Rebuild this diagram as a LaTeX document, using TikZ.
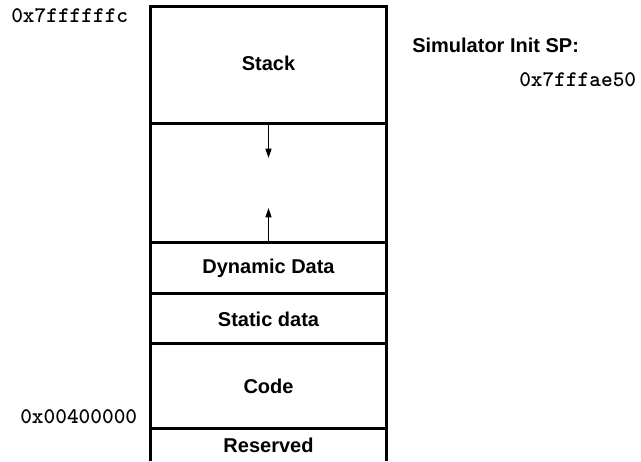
\documentclass[tikz,border=0pt]{standalone}
\usepackage{fontspec}
\setmainfont{Liberation Sans}
\usetikzlibrary{arrows.meta}

\tikzset{
  region/.style={inner sep=0pt, minimum width=177pt,
    font=\fontsize{15}{18}\selectfont\bfseries},
  addr/.style={inner sep=0pt, anchor=west,
    font=\ttfamily\fontsize{16.7}{19}\selectfont\bfseries},
  caption/.style={inner sep=0pt, anchor=west,
    font=\fontsize{15}{18}\selectfont\bfseries},
  wall/.style={line width=2.3pt},
  sep/.style={line width=1.9pt},
  growth/.style={line width=0.7pt, -{Triangle[length=7pt,width=4.5pt]}}
}

\begin{document}
\begin{tikzpicture}[x=0.75pt,y=-0.75pt]
  \useasboundingbox (0,0) rectangle (641,461);

  % memory segments, top to bottom
  \node[region, minimum height=87.75pt] (stack) at (268.5,65.5) {};
  \node[region, minimum height=89.25pt] (gap)   at (268.5,183.5) {};
  \node[region, minimum height=38.25pt] (dyn)   at (268.5,268.5) {Dynamic Data};
  \node[region, minimum height=37.5pt]  (stat)  at (268.5,319) {Static data};
  \node[region, minimum height=63.75pt] (code)  at (268.5,386.5) {Code};
  \node[region, minimum height=24pt]    (res)   at (268.5,445) {Reserved};
  \node[region, minimum width=0pt] (stacklbl) at (268.5,63) {Stack};

  % outer walls (open at the bottom)
  \draw[wall, line join=miter]
    (res.south west) -- (stack.north west) -- (stack.north east) -- (res.south east);

  % segment boundaries
  \draw[wall] (gap.north west) -- (gap.north east);
  \draw[wall] (dyn.north west) -- (dyn.north east);
  \draw[wall] (stat.north west) -- (stat.north east);
  \draw[sep]  (code.north west) -- (code.north east);
  \draw[sep]  (res.north west) -- (res.north east);

  % growth directions of stack and heap
  \coordinate (downtip) at (268.5,158);
  \coordinate (uptip)   at (268.5,208);
  \draw[growth] (gap.north) -- (downtip);
  \draw[growth] (gap.south) -- (uptip);

  % addresses
  \node[addr] (top)  at (11,16)  {0x7ffffffc};
  \node[addr] (text) at (20,417) {0x00400000};
  \node[caption] (sim) at (412,45) {Simulator Init SP:};
  \node[addr] (sp)   at (519,80) {0x7fffae50};
\end{tikzpicture}
\end{document}
